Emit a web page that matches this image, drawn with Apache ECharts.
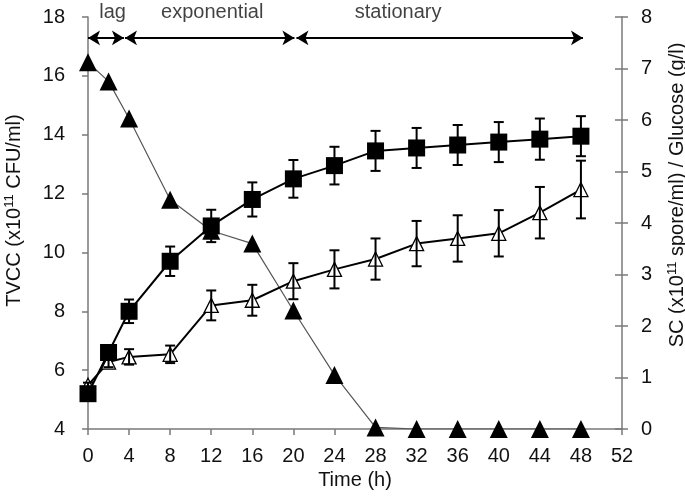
<!DOCTYPE html>
<html>
<head>
<meta charset="utf-8">
<script src="https://cdn.jsdelivr.net/npm/echarts@6/dist/echarts.min.js"></script>
<style>html,body{margin:0;padding:0;background:#fff}#c{width:685px;height:498px}</style>
</head>
<body>
<div id="c"></div>
<script>
const hours = [0, 2, 4, 8, 12, 16, 20, 24, 28, 32, 36, 40, 44, 48];
const tvcc = [5.2, 6.6, 8.0, 9.7, 10.9, 11.8, 12.5, 12.95, 13.45, 13.55, 13.65, 13.75, 13.85, 13.95];
const tvccErr = [0.1, 0.2, 0.4, 0.5, 0.55, 0.58, 0.64, 0.64, 0.68, 0.68, 0.68, 0.68, 0.7, 0.68];
const sc = [0.85, 1.3, 1.4, 1.45, 2.4, 2.5, 2.87, 3.1, 3.3, 3.6, 3.7, 3.8, 4.2, 4.65];
const scErr = [0.05, 0.1, 0.15, 0.17, 0.29, 0.3, 0.35, 0.37, 0.4, 0.44, 0.45, 0.45, 0.5, 0.56];
const glucose = [7.12, 6.75, 6.03, 4.45, 3.85, 3.6, 2.3, 1.05, 0.03, 0, 0, 0, 0, 0];
const phaseNames = ['lag', 'exponential', 'stationary'];
const phaseStart = [0, 3.6, 20.3];
const phaseEnd = [3.5, 20.1, 48.2];
const phaseLabelX = [2.4, 12.1, 30.2];
const phaseArrowY = 17.29;
const phaseLabelY = 18.15;

const FONT = 'Liberation Sans, Arial, sans-serif';
const AX = '#7a7a7a';
const TXT = '#111';
const FS = 20;

function pairs(ys) { return hours.map((h, i) => [h, ys[i]]); }
function errData(ys, es) { return hours.map((h, i) => [h, ys[i] - es[i], ys[i] + es[i]]); }

function errRender(params, api) {
  const x = api.value(0);
  const lo = api.coord([x, api.value(1)]);
  const hi = api.coord([x, api.value(2)]);
  const w = 5;
  const st = { stroke: '#000', lineWidth: 2 };
  return {
    type: 'group',
    children: [
      { type: 'line', shape: { x1: lo[0], y1: lo[1], x2: hi[0], y2: hi[1] }, style: st },
      { type: 'line', shape: { x1: lo[0] - w, y1: lo[1], x2: lo[0] + w, y2: lo[1] }, style: st },
      { type: 'line', shape: { x1: hi[0] - w, y1: hi[1], x2: hi[0] + w, y2: hi[1] }, style: st }
    ]
  };
}

const phaseLines = phaseNames.map((n, i) => [
  { coord: [phaseStart[i], phaseArrowY] },
  { coord: [phaseEnd[i], phaseArrowY] }
]);

const nameRich = {
  n: { fontFamily: FONT, fontSize: FS, color: TXT },
  s: { fontFamily: FONT, fontSize: 13, color: TXT, verticalAlign: 'top', padding: [0, 0, 9, 0] }
};

const chart = echarts.init(document.getElementById('c'), null, { renderer: 'canvas' });
chart.setOption({
  animation: false,
  backgroundColor: '#fff',
  grid: { left: 88, right: 63, top: 17, bottom: 69, containLabel: false, outerBoundsMode: 'none' },
  xAxis: {
    type: 'value', min: 0, max: 52, interval: 4,
    name: 'Time (h)', nameLocation: 'middle', nameGap: 41,
    nameTextStyle: { fontFamily: FONT, fontSize: FS, color: TXT },
    axisLine: { show: true, lineStyle: { color: AX, width: 1.5 } },
    axisTick: { show: true, inside: false, length: 6, lineStyle: { color: AX, width: 1.5 } },
    axisLabel: { fontFamily: FONT, fontSize: FS, color: TXT, margin: 17 },
    splitLine: { show: false }
  },
  yAxis: [
    {
      type: 'value', min: 4, max: 18, interval: 2, position: 'left',
      name: '{n|TVCC (x10}{s|11}{n| CFU/ml)}', nameLocation: 'middle', nameGap: 63,
      nameTextStyle: { padding: [0, 0, 0, 25], rich: nameRich },
      axisLine: { show: true, lineStyle: { color: AX, width: 1.5 } },
      axisTick: { show: true, inside: false, length: 6, lineStyle: { color: AX, width: 1.5 } },
      axisLabel: { fontFamily: FONT, fontSize: FS, color: TXT, margin: 23 },
      splitLine: { show: false }
    },
    {
      type: 'value', min: 0, max: 8, interval: 1, position: 'right',
      name: '{n|SC (x10}{s|11}{n| spore/ml) / Glucose (g/l)}', nameLocation: 'middle', nameGap: 44,
      nameTextStyle: { padding: [0, 0, 0, 56], rich: nameRich },
      axisLine: { show: true, lineStyle: { color: AX, width: 1.5 } },
      axisTick: { show: true, inside: false, length: 6, lineStyle: { color: AX, width: 1.5 } },
      axisLabel: { fontFamily: FONT, fontSize: FS, color: TXT, margin: 19 },
      splitLine: { show: false }
    },
    {
      type: 'value', min: 0, max: 8, interval: 1, position: 'right',
      axisLine: { show: false },
      axisTick: { show: true, inside: true, length: 7, lineStyle: { color: AX, width: 1.5 } },
      axisLabel: { show: false },
      splitLine: { show: false }
    }
  ],
  series: [
    {
      name: 'Glucose', type: 'line', yAxisIndex: 1, z: 1,
      data: pairs(glucose),
      symbol: 'triangle', symbolSize: 18,
      itemStyle: { color: '#000' },
      lineStyle: { color: '#555', width: 1.2 }
    },
    {
      name: 'SC', type: 'line', yAxisIndex: 1, z: 2,
      data: pairs(sc),
      symbol: 'triangle', symbolSize: 14,
      itemStyle: { color: '#fff', borderColor: '#000', borderWidth: 1.3 },
      lineStyle: { color: '#000', width: 2 }
    },
    {
      name: 'SC err', type: 'custom', yAxisIndex: 1, z: 3,
      data: errData(sc, scErr), renderItem: errRender, silent: true
    },
    {
      name: 'TVCC err', type: 'custom', yAxisIndex: 0, z: 3,
      data: errData(tvcc, tvccErr), renderItem: errRender, silent: true
    },
    {
      name: 'TVCC', type: 'line', yAxisIndex: 0, z: 4,
      data: pairs(tvcc),
      symbol: 'rect', symbolSize: 17,
      itemStyle: { color: '#000' },
      lineStyle: { color: '#000', width: 2 },
      markLine: {
        silent: true, animation: false,
        symbol: ['arrow', 'arrow'], symbolSize: [11, 12],
        lineStyle: { color: '#000', width: 2, type: 'solid' },
        label: { show: false },
        data: phaseLines
      }
    },
    {
      name: 'phases', type: 'scatter', yAxisIndex: 0, clip: false, silent: true,
      data: phaseNames.map((n, i) => [phaseLabelX[i], phaseLabelY, n]),
      symbolSize: 0,
      label: { show: true, position: 'inside', formatter: p => p.value[2],
        fontFamily: FONT, fontSize: FS, color: TXT }
    }
  ]
});
</script>
</body>
</html>
